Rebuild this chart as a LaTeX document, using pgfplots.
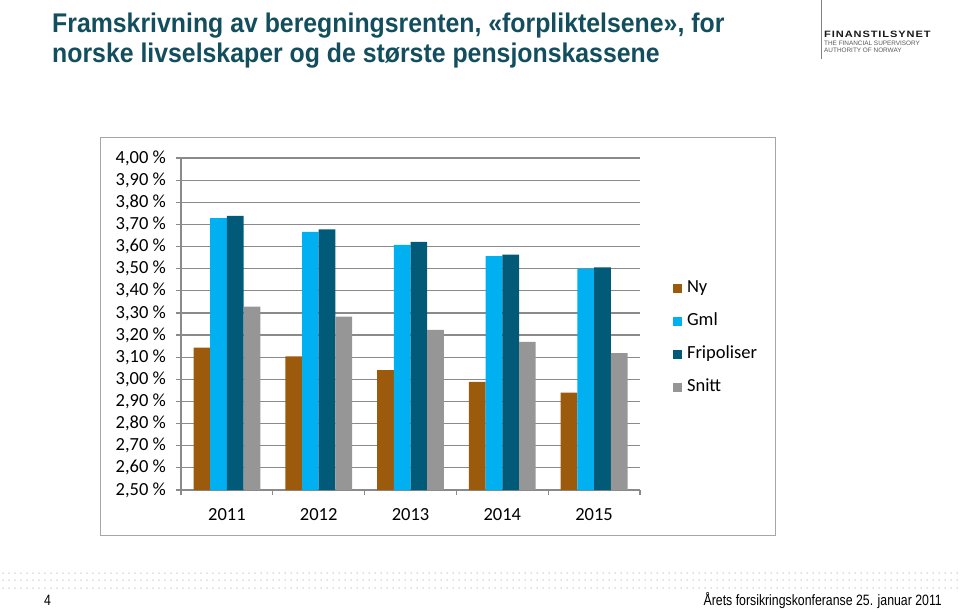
\documentclass[border=0pt]{standalone}
\usepackage{pgfplots}
\pgfplotsset{compat=1.18}
\usepackage{pgfplotstable}
\usepackage{fontspec}
\setmainfont{Carlito}
\newfontfamily\titlefont[FakeStretch=0.92]{Liberation Sans}
\newfontfamily\footfont[FakeStretch=0.82]{Liberation Sans}
\newfontfamily\logofont[FakeStretch=1.2, LetterSpace=10]{Liberation Sans}
\newfontfamily\logosub{Liberation Sans}

\definecolor{nycol}{HTML}{9C5A0C}
\definecolor{gmlcol}{HTML}{00B0F0}
\definecolor{fricol}{HTML}{005A78}
\definecolor{snicol}{HTML}{969696}
\definecolor{titlecol}{HTML}{134E5E}
\definecolor{gridcol}{HTML}{8A8A8A}
\definecolor{dotcol}{HTML}{B4C2CC}

% year  Ny  Gml  Fripoliser  Snitt  (prosent)
\pgfplotstableread{
x  ny     gml    fri    snitt
0  3.143  3.728  3.738  3.328
1  3.104  3.666  3.678  3.283
2  3.042  3.608  3.621  3.224
3  2.988  3.557  3.563  3.169
4  2.940  3.500  3.506  3.118
}\rentedata

\begin{document}
\begin{tikzpicture}[x=1pt,y=1pt]
\path[use as bounding box] (0,0) rectangle (960,611);

% title
\node[anchor=base west, inner sep=0pt, text=titlecol, font=\titlefont\bfseries\fontsize{27}{30}\selectfont]
  at (52,578) {Framskrivning av beregningsrenten, «forpliktelsene», for};
\node[anchor=base west, inner sep=0pt, text=titlecol, font=\titlefont\bfseries\fontsize{27}{30}\selectfont]
  at (52,548) {norske livselskaper og de største pensjonskassene};

% logo
\draw[gray, line width=0.8pt] (821,611) -- (821,552);
\node[anchor=base west, inner sep=0pt, font=\logofont\bfseries\fontsize{9.2}{11}\selectfont, text=black!90]
  at (824,573) {FINANSTILSYNET};
\node[anchor=base west, inner sep=0pt, font=\logosub\fontsize{6.4}{7}\selectfont, text=black!65]
  at (824,565) {THE FINANCIAL SUPERVISORY};
\node[anchor=base west, inner sep=0pt, font=\logosub\fontsize{6.4}{7}\selectfont, text=black!65]
  at (824,558) {AUTHORITY OF NORWAY};

% chart frame
\draw[black!35, line width=0.8pt] (100,473.3) rectangle (775.7,75.3);

\begin{axis}[
  at={(181pt,121pt)}, anchor=south west,
  scale only axis, width=459pt, height=332pt,
  ybar=0pt, bar width=16.7pt,
  xmin=-0.5, xmax=4.5, ymin=2.5, ymax=4.0,
  axis x line*=bottom, axis y line*=left,
  axis line style={gridcol, line width=1.2pt},
  xtick={0,1,2,3,4},
  xticklabels={2011,2012,2013,2014,2015},
  minor xtick={-0.5,0.5,1.5,2.5,3.5,4.5},
  ytick={2.5,2.6,2.7,2.8,2.9,3.0,3.1,3.2,3.3,3.4,3.5,3.6,3.7,3.8,3.9,4.0},
  tick align=outside,
  major tick length=5pt, minor tick length=5pt,
  x tick style={draw=none},
  minor x tick style={draw=gridcol, line width=1.2pt},
  y tick style={gridcol, line width=1.2pt},
  ymajorgrids, grid style={gridcol, line width=1.2pt},
  /pgf/number format/assume math mode=true,
  yticklabel={\pgfmathprintnumber[fixed, fixed zerofill, precision=2, use comma]{\tick}~\%},
  tick label style={font=\fontsize{18.5}{21}\selectfont, text=black},
  yticklabel style={inner sep=0pt, xshift=-10pt},
  xticklabel style={inner sep=0pt, yshift=-13pt},
  legend style={draw=none, fill=none, at={(axis description cs:1.065,0.459)}, anchor=west,
    font=\fontsize{18.5}{21}\selectfont, row sep=16pt, column sep=5pt,
    nodes={inner sep=0pt, text height=13pt, text depth=4pt}},
  legend cell align=left,
  legend image code/.code={\fill[#1] (0pt,-4.5pt) rectangle (9pt,4.5pt);},
]
\addplot[fill=nycol, draw=none] table[x=x, y=ny] {\rentedata};
\addplot[fill=gmlcol, draw=none] table[x=x, y=gml] {\rentedata};
\addplot[fill=fricol, draw=none] table[x=x, y=fri] {\rentedata};
\addplot[fill=snicol, draw=none] table[x=x, y=snitt] {\rentedata};
\legend{Ny, Gml, Fripoliser, Snitt}
\end{axis}

% dotted separator
\foreach \yy in {38,31,23}{
  \foreach \xx in {3,9,...,957}{
    \fill[dotcol] (\xx,\yy) circle (0.75);
  }
}

% footer
\node[anchor=base west, inner sep=0pt, font=\footfont\fontsize{15}{17}\selectfont]
  at (44,6) {4};
\node[anchor=base east, inner sep=0pt, font=\footfont\fontsize{15}{17}\selectfont]
  at (942,6) {Årets forsikringskonferanse 25. januar 2011};
\end{tikzpicture}
\end{document}
